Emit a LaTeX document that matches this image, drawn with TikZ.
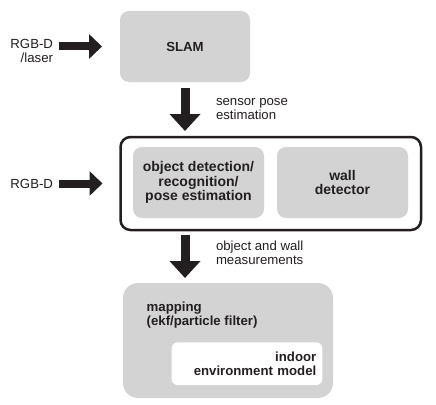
\documentclass[tikz,border=0pt]{standalone}
\usepackage{fontspec}
\setmainfont{Liberation Sans}
\usetikzlibrary{arrows.meta}
\definecolor{boxgrey}{RGB}{211,211,212}
\definecolor{ink}{RGB}{35,31,32}

\begin{document}
\begin{tikzpicture}[x=1pt,y=-1pt,
  every node/.style={text=ink,inner sep=0pt,outer sep=0pt},
  greybox/.style={fill=boxgrey,rounded corners=9pt,align=center,
    font=\bfseries\fontsize{13.2}{14}\selectfont},
  bigtxt/.style={font=\bfseries\fontsize{14}{14.5}\selectfont},
  txt/.style={align=left,font=\fontsize{13.2}{14}\selectfont},
  harrow/.style={draw=ink,line width=8pt,-{Triangle[width=24pt,length=13pt]}},
  varrow/.style={draw=ink,line width=9pt,-{Triangle[width=30pt,length=17pt]}}]
\useasboundingbox[fill=white] (0,0) rectangle (436,404);

% boxes
\node[greybox,minimum width=130pt,minimum height=71pt] (slam) at (185,46.5) {SLAM};
\node[draw=ink,line width=2.5pt,rounded corners=10pt,minimum width=300.5pt,
  minimum height=93pt] (detect) at (270.75,183.5) {};
\node[greybox,bigtxt,minimum width=131pt,minimum height=71pt] (objdet) at (198.5,182.5)
  {object detection/\\recognition/\\pose estimation};
\node[greybox,bigtxt,minimum width=131pt,minimum height=71pt] (wall) at (342.5,182.5)
  {wall\\detector};
\node[greybox,rounded corners=15pt,minimum width=210pt,minimum height=115pt]
  (mapping) at (228,340.5) {};
\node[greybox,anchor=north west,align=left] (maptext) at (146.7,301.5)
  {mapping\\(ekf/particle filter)};
\node[greybox,fill=white,rounded corners=6pt,minimum width=150.6pt,
  minimum height=42.7pt,inner xsep=6pt,text width=138.6pt,align=right]
  (envmodel) at (247,363.7) {indoor\\environment model};

% inputs and labels
\node[txt,align=right,anchor=east] (inslam) at (53,51) {RGB-D\\/laser};
\node[txt,anchor=east] (indetect) at (53,184) {RGB-D};
\node[txt,anchor=north west] (lblpose) at (216,98.5) {sensor pose\\estimation};
\node[txt,anchor=north west] (lblmeas) at (216,241) {object and wall\\measurements};

% arrows
\draw[harrow,shorten <=6pt,shorten >=18pt] (inslam.east |- slam.west) -- (slam.west);
\draw[harrow,shorten <=6pt,shorten >=18pt] (indetect.east |- detect.west) -- (detect.west);
\draw[varrow,shorten <=6pt,shorten >=6pt] (slam.south) -- (slam.south |- detect.north);
\draw[varrow,shorten <=5pt,shorten >=5pt] (slam.south |- detect.south) -- (slam.south |- mapping.north);
\end{tikzpicture}
\end{document}
